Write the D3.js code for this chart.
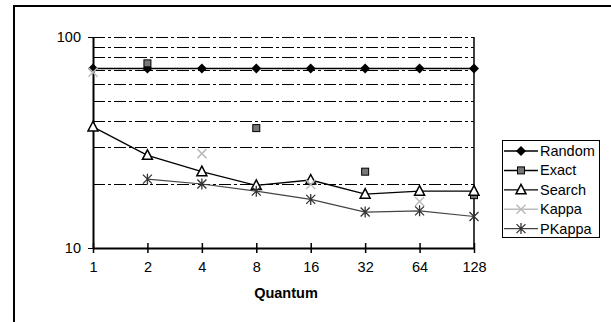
<!DOCTYPE html>
<html>
<head>
<meta charset="utf-8">
<script src="https://cdn.jsdelivr.net/npm/d3@7"></script>
<style>
  body { margin: 0; background: #fff; }
  text { font-family: Arial, "Liberation Sans", sans-serif; }
</style>
</head>
<body>
<script>
// chart data
var quanta = ["1", "2", "4", "8", "16", "32", "64", "128"];
var random = [71, 71, 71, 71, 71, 71, 71, 71];
var exact = [null, 75, null, 37, null, 23, null, 17.8];
var search = [37.5, 27.5, 23, 19.8, 21, 18, 18.6, 18.6];
var kappa = [68, null, 28, null, 20, null, 16.6, null];
var pkappa = [null, 21.2, 20.1, 18.6, 17, 14.8, 15, 14.1];
var yTicks = [10, 100];
var gridValues = [20, 30, 40, 50, 60, 70, 80, 90, 100];

var W = 611, H = 322;
var svg = d3.select("body").append("svg")
    .attr("width", W)
    .attr("height", H);

// outer chart frame (runs off the right and bottom edges)
svg.append("rect")
    .attr("x", 14).attr("y", 6)
    .attr("width", W + 20).attr("height", H + 20)
    .attr("fill", "none")
    .attr("stroke", "#000")
    .attr("stroke-width", 2);

var x = d3.scalePoint().domain(quanta).range([93, 474]);
var y = d3.scaleLog().domain([10, 100]).range([248, 37]);

// dash-dot gridlines
svg.selectAll(".grid")
    .data(gridValues)
    .enter()
    .append("line")
    .attr("class", "grid")
    .attr("x1", 93).attr("x2", 474)
    .attr("y1", function(d) { return Math.round(y(d)) + 0.5; })
    .attr("y2", function(d) { return Math.round(y(d)) + 0.5; })
    .attr("stroke", "#000")
    .attr("stroke-width", 1)
    .attr("stroke-dasharray", "12,3,3,3");

// right edge of plot area
svg.append("line")
    .attr("x1", 474).attr("x2", 474)
    .attr("y1", 37).attr("y2", 248)
    .attr("stroke", "#000")
    .attr("stroke-width", 1.5);

// y axis
var yAxis = svg.append("g")
    .attr("transform", "translate(93,0)")
    .call(d3.axisLeft(y).tickValues(yTicks).tickFormat(d3.format("d")).tickSize(5).tickSizeOuter(0).tickPadding(7));
yAxis.select(".domain").attr("stroke-width", 2);
yAxis.selectAll("text").attr("font-size", "14.5px").attr("fill", "#000")
    .attr("font-family", "Arial, 'Liberation Sans', sans-serif");

// x axis with crossing ticks
var xAxis = svg.append("g")
    .attr("transform", "translate(0,248)")
    .call(d3.axisBottom(x).tickSize(5).tickSizeOuter(0).tickPadding(9));
xAxis.select(".domain").attr("stroke-width", 2);
xAxis.selectAll(".tick line").attr("y1", -5).attr("stroke-width", 1.5);
xAxis.selectAll("text").attr("font-size", "14.5px").attr("fill", "#000")
    .attr("font-family", "Arial, 'Liberation Sans', sans-serif");

svg.append("text")
    .attr("x", 286).attr("y", 298)
    .attr("text-anchor", "middle")
    .attr("font-size", "14.5px")
    .attr("font-weight", "bold")
    .text("Quantum");

// series
function pts(vals) {
  return quanta.map(function(q, i) { return { q: q, v: vals[i] }; })
    .filter(function(d) { return d.v != null; });
}

var line = d3.line()
    .x(function(d) { return x(d.q); })
    .y(function(d) { return y(d.v); });

var series = [
  { name: "Random", vals: random, line: true, stroke: "#000", width: 1.5, marker: "diamond" },
  { name: "Exact", vals: exact, line: false, stroke: "#000", width: 1.5, marker: "square" },
  { name: "Search", vals: search, line: true, stroke: "#000", width: 1.3, marker: "triangle" },
  { name: "Kappa", vals: kappa, line: false, stroke: "#bbb", width: 1.5, marker: "x" },
  { name: "PKappa", vals: pkappa, line: true, stroke: "#444", width: 1.2, marker: "star" }
];

function drawMarker(g, type, cx, cy) {
  if (type == "diamond") {
    g.append("path")
      .attr("d", "M" + cx + "," + (cy - 5) + "L" + (cx + 5) + "," + cy + "L" + cx + "," + (cy + 5) + "L" + (cx - 5) + "," + cy + "Z")
      .attr("fill", "#000");
  } else if (type == "square") {
    g.append("rect")
      .attr("x", cx - 3.5).attr("y", cy - 3.5)
      .attr("width", 7).attr("height", 7)
      .attr("fill", "#777").attr("stroke", "#000").attr("stroke-width", 1);
  } else if (type == "triangle") {
    g.append("path")
      .attr("d", "M" + cx + "," + (cy - 5.5) + "L" + (cx + 5) + "," + (cy + 4) + "L" + (cx - 5) + "," + (cy + 4) + "Z")
      .attr("fill", "#fff").attr("stroke", "#000").attr("stroke-width", 1.5);
  } else if (type == "x") {
    g.append("path")
      .attr("d", "M" + (cx - 4.5) + "," + (cy - 4.5) + "L" + (cx + 4.5) + "," + (cy + 4.5) + "M" + (cx + 4.5) + "," + (cy - 4.5) + "L" + (cx - 4.5) + "," + (cy + 4.5))
      .attr("stroke", "#bbb").attr("stroke-width", 1.5);
  } else if (type == "star") {
    g.append("path")
      .attr("d", "M" + (cx - 4.5) + "," + (cy - 4.5) + "L" + (cx + 4.5) + "," + (cy + 4.5) + "M" + (cx + 4.5) + "," + (cy - 4.5) + "L" + (cx - 4.5) + "," + (cy + 4.5) + "M" + cx + "," + (cy - 5.5) + "L" + cx + "," + (cy + 5.5))
      .attr("stroke", "#333").attr("stroke-width", 1.3);
  }
}

series.forEach(function(s) {
  var g = svg.append("g").attr("class", "series");
  var data = pts(s.vals);
  if (s.line) {
    g.append("path")
      .attr("d", line(data))
      .attr("fill", "none")
      .attr("stroke", s.stroke)
      .attr("stroke-width", s.width);
  }
  data.forEach(function(d) {
    drawMarker(g, s.marker, x(d.q), y(d.v));
  });
});

// legend
var legend = svg.append("g");
legend.append("rect")
    .attr("x", 502.5).attr("y", 140.5)
    .attr("width", 97).attr("height", 97)
    .attr("fill", "#fff").attr("stroke", "#000").attr("stroke-width", 1);

series.forEach(function(s, i) {
  var ly = 151 + i * 19.4;
  var g = legend.append("g");
  g.append("line")
    .attr("x1", 504).attr("x2", 538)
    .attr("y1", ly).attr("y2", ly)
    .attr("stroke", s.stroke)
    .attr("stroke-width", s.width);
  drawMarker(g, s.marker, 521, ly);
  g.append("text")
    .attr("x", 540).attr("y", ly + 5)
    .attr("font-size", "14.5px")
    .text(s.name);
});
</script>
</body>
</html>
